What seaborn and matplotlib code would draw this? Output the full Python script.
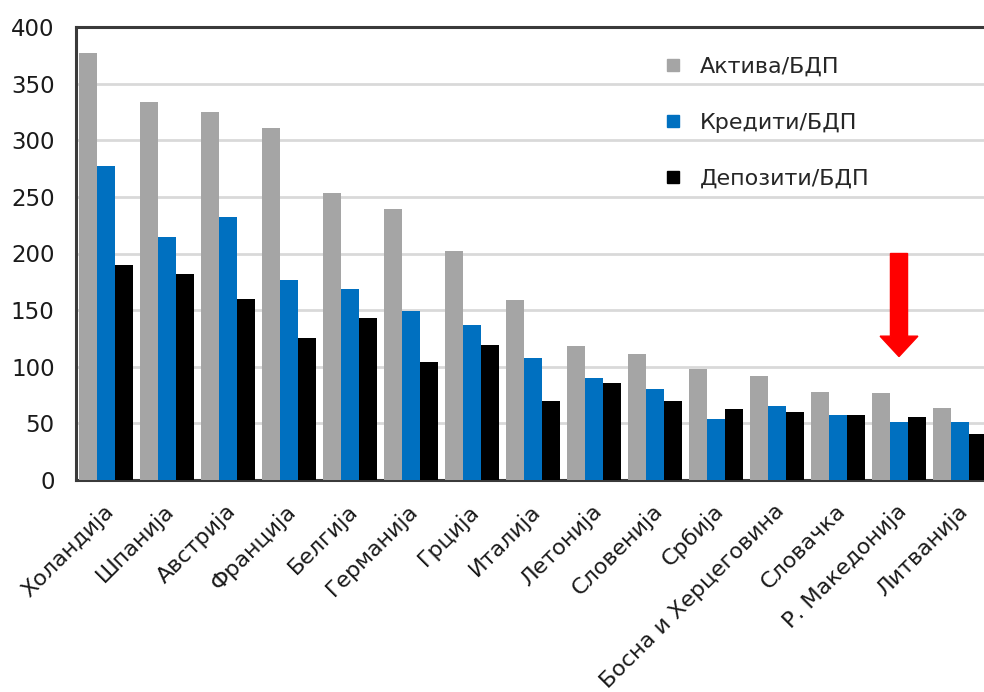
import matplotlib
matplotlib.use("Agg")
import matplotlib.pyplot as plt
import matplotlib.transforms as mtransforms
from matplotlib.lines import Line2D
import seaborn as sns
import pandas as pd

countries = ["Холандија", "Шпанија", "Австрија", "Франција", "Белгија", "Германија",
             "Грција", "Италија", "Летонија", "Словенија", "Србија",
             "Босна и Херцеговина", "Словачка", "Р. Македонија", "Литванија"]
aktiva = [377, 334, 325, 311, 253, 239, 202, 159, 118, 111, 98, 92, 78, 77, 64]
krediti = [277, 215, 232, 177, 169, 149, 137, 108, 90, 80, 54, 65, 57, 51, 51]
depoziti = [190, 182, 160, 125, 143, 104, 119, 70, 86, 70, 63, 60, 57, 56, 41]
series = ["Актива/БДП", "Кредити/БДП", "Депозити/БДП"]
colors = ["#A5A5A5", "#0070C0", "#000000"]
yticks = [0, 50, 100, 150, 200, 250, 300, 350, 400]

df = pd.DataFrame({
    "country": countries * 3,
    "series": [series[0]] * 15 + [series[1]] * 15 + [series[2]] * 15,
    "value": aktiva + krediti + depoziti,
})

sns.set_theme(style="white")
plt.rcParams["font.family"] = ["DejaVu Sans"]

fig = plt.figure(figsize=(9.84, 6.92), dpi=100)
ax = fig.add_axes([75.5 / 984, 1 - 480 / 692, 915 / 984, 453 / 692])

sns.barplot(data=df, x="country", y="value", hue="series", order=countries,
            hue_order=series, palette=colors, width=0.885, gap=0,
            linewidth=0, saturation=1, legend=False, ax=ax, zorder=3)

ax.set_xlim(-0.5, 14.5)
ax.set_ylim(0, 400)
ax.set_yticks(yticks)
ax.set_yticklabels([str(v) for v in yticks], fontsize=16.5, color="#1a1a1a")
ax.yaxis.grid(True, color="#D9D9D9", linewidth=2, zorder=0)
ax.set_axisbelow(True)
ax.tick_params(axis="y", length=0, pad=15)
ax.tick_params(axis="x", length=0, pad=20)
ax.set_xlabel("")
ax.set_ylabel("")

offset = mtransforms.ScaledTranslation(4 / 100, 0, fig.dpi_scale_trans)
for lbl in ax.get_xticklabels():
    lbl.set_rotation(45)
    lbl.set_ha("right")
    lbl.set_va("center")
    lbl.set_rotation_mode("anchor")
    lbl.set_fontsize(16)
    lbl.set_color("#1a1a1a")
    lbl.set_transform(lbl.get_transform() + offset)

for side in ["left", "top", "bottom"]:
    ax.spines[side].set_visible(True)
    ax.spines[side].set_color("#3a3a3a")
    ax.spines[side].set_linewidth(2.2)
ax.spines["right"].set_visible(False)

# red arrow pointing at Р. Македонија
ax.arrow(13, 200, 0, -91, width=0.28, head_width=0.62, head_length=18,
         length_includes_head=True, color="#FF0000", zorder=5)

handles = [Line2D([], [], linestyle="none", marker="s", markersize=8,
                  markerfacecolor=c, markeredgecolor=c) for c in colors]
fig.legend(handles, series, loc="upper left", bbox_to_anchor=(664 / 984, 1 - 57 / 692),
           frameon=False, fontsize=16, labelspacing=1.62, handlelength=0.8,
           handletextpad=0.8, borderpad=0, borderaxespad=0)

fig.savefig("out.png", dpi=100)
